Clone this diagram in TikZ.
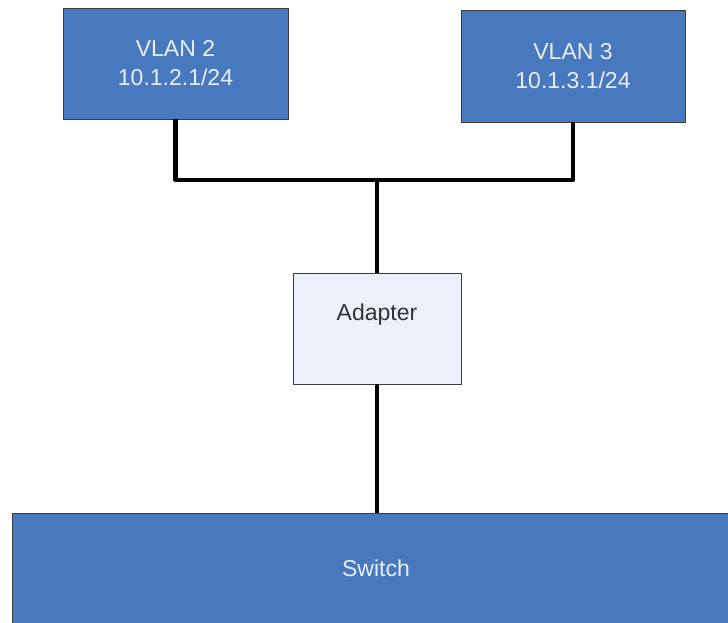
\documentclass[tikz,border=0pt]{standalone}
\usepackage{fontspec}
\setmainfont{Liberation Sans}
\usetikzlibrary{calc, positioning}
\definecolor{vlanblue}{HTML}{4879BE}
\definecolor{adapterfill}{HTML}{EBF0FA}
\definecolor{boxline}{HTML}{3C3C3C}
\definecolor{boxtext}{HTML}{E8EEF7}

\begin{document}
\begin{tikzpicture}[x=1pt, y=-1pt,
  vlanbox/.style={draw=boxline, fill=vlanblue, line width=0.9pt, text=boxtext,
    minimum width=225pt, minimum height=111pt, align=center,
    font=\fontsize{23}{29}\selectfont},
  adapterbox/.style={draw=boxline, fill=adapterfill, line width=0.9pt,
    minimum width=168pt, minimum height=111pt},
  link/.style={black, line width=4.2pt, line join=round}
]
  \clip (0,0) rectangle (728,623);
  \fill[white] (0,0) rectangle (728,623);

  \node[vlanbox] (vlan2) at (175.5,63.5) {VLAN 2\\10.1.2.1/24};
  \node[vlanbox, minimum width=224pt, minimum height=112pt] (vlan3) at (573,66) {VLAN 3\\10.1.3.1/24};
  \node[adapterbox] (adapter) at (377,328.5) {};
  \node[font=\fontsize{23}{29}\selectfont, text=black!80] (adaptertext)
    at ([yshift=-42pt]adapter.north) {Adapter};
  \node[vlanbox, minimum width=728pt, minimum height=110pt] (switch) at (376,568) {Switch};

  \coordinate (bus) at (377,180);
  \draw[link] (vlan2.south) |- (bus) -| (vlan3.south);
  \draw[link] (bus) -- (adapter.north);
  \draw[link] (adapter.south) -- (adapter.south |- switch.north);
\end{tikzpicture}
\end{document}
